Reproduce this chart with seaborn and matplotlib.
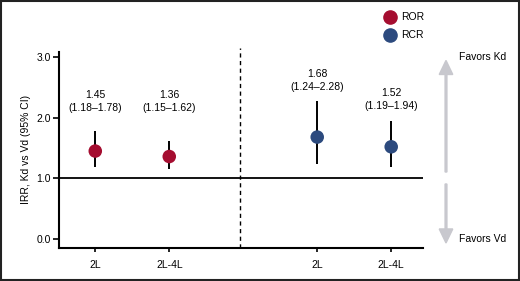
import matplotlib
matplotlib.use("Agg")
import matplotlib.pyplot as plt
import seaborn as sns
import pandas as pd
from matplotlib.patches import Rectangle, FancyArrow

categories = ["2L", "2L-4L", "2L", "2L-4L"]
groups = ["ROR", "ROR", "RCR", "RCR"]
positions = [0, 1, 3, 4]
irr = [1.45, 1.36, 1.68, 1.52]
ci_low = [1.18, 1.15, 1.24, 1.19]
ci_high = [1.78, 1.62, 2.28, 1.94]
label_y = [2.265, 2.265, 2.61, 2.30]
yticks = [0.0, 1.0, 2.0, 3.0]

df = pd.DataFrame({"pos": positions, "irr": irr, "lo": ci_low, "hi": ci_high,
                   "group": groups, "cat": categories, "ly": label_y})

sns.set_style("ticks")
plt.rcParams["font.family"] = ["Liberation Sans", "DejaVu Sans"]
plt.rcParams["text.color"] = "black"
plt.rcParams["axes.labelcolor"] = "black"
plt.rcParams["xtick.color"] = "black"
plt.rcParams["ytick.color"] = "black"

palette = {"ROR": "#A50D30", "RCR": "#2C4A7E"}

fig = plt.figure(figsize=(5.2, 2.81), dpi=100)
ax = fig.add_axes([0.1135, 0.1185, 0.70, 0.6965])

ax.vlines(df["pos"], df["lo"], df["hi"], color="black", lw=1.4, zorder=2)
sns.scatterplot(data=df, x="pos", y="irr", hue="group", palette=palette, s=95,
                edgecolor="none", ax=ax, zorder=3, legend=False)

ax.axhline(1.0, color="black", lw=1.3, zorder=1)
ax.plot([1.96, 1.96], [-0.14, 3.14], color="black", lw=1.0, ls=(0, (3, 2.5)),
        clip_on=False, zorder=1)

for _, r in df.iterrows():
    ax.text(r["pos"], r["ly"], f"{r['irr']:.2f}\n({r['lo']:.2f}\u2013{r['hi']:.2f})",
            ha="center", va="center", fontsize=7.5, linespacing=1.3, color="black")

ax.set_xlim(-0.49, 4.43)
ax.set_ylim(-0.14, 3.08)
ax.set_xticks(positions)
ax.set_xticklabels(categories, fontsize=7.5)
ax.set_yticks(yticks)
ax.set_yticklabels([f"{v:.1f}" for v in yticks], fontsize=7.5)
ax.set_xlabel("")
ax.set_ylabel("IRR, Kd vs Vd (95% CI)", fontsize=7.5, labelpad=4)
ax.tick_params(axis="y", length=4, width=1.2, pad=2, colors="black")
ax.tick_params(axis="x", length=3, width=1.2, pad=6, colors="black")
sns.despine(ax=ax, top=True, right=True)
for s in ["left", "bottom"]:
    ax.spines[s].set_linewidth(1.5)
    ax.spines[s].set_color("black")

# legend
for yy, g in [(0.938, "ROR"), (0.875, "RCR")]:
    fig.lines.append(plt.Line2D([0.75], [yy], marker="o", ms=9.5, color=palette[g],
                                 transform=fig.transFigure, ls="none"))
    fig.text(0.772, yy, g, fontsize=7.5, va="center", ha="left")

# arrows
gray = "#C8C8CE"
fig.patches.append(FancyArrow(446/520, 1-172/281, 0, (172-52)/281 - 0.03, width=0.0035,
                              head_width=0.026, head_length=0.05, color=gray,
                              transform=fig.transFigure, length_includes_head=True))
fig.patches.append(FancyArrow(446/520, 1-184/281, 0, -(243-184)/281, width=0.0035,
                              head_width=0.026, head_length=0.05, color=gray,
                              transform=fig.transFigure, length_includes_head=True))
fig.text(459/520, 1-57/281, "Favors Kd", fontsize=7.5, va="center", ha="left")
fig.text(459/520, 1-239/281, "Favors Vd", fontsize=7.5, va="center", ha="left")

fig.patches.append(Rectangle((0.002, 0.003), 0.996, 0.994, transform=fig.transFigure,
                             fill=False, edgecolor="#222222", lw=1.5))

fig.savefig("out.png", dpi=100)
